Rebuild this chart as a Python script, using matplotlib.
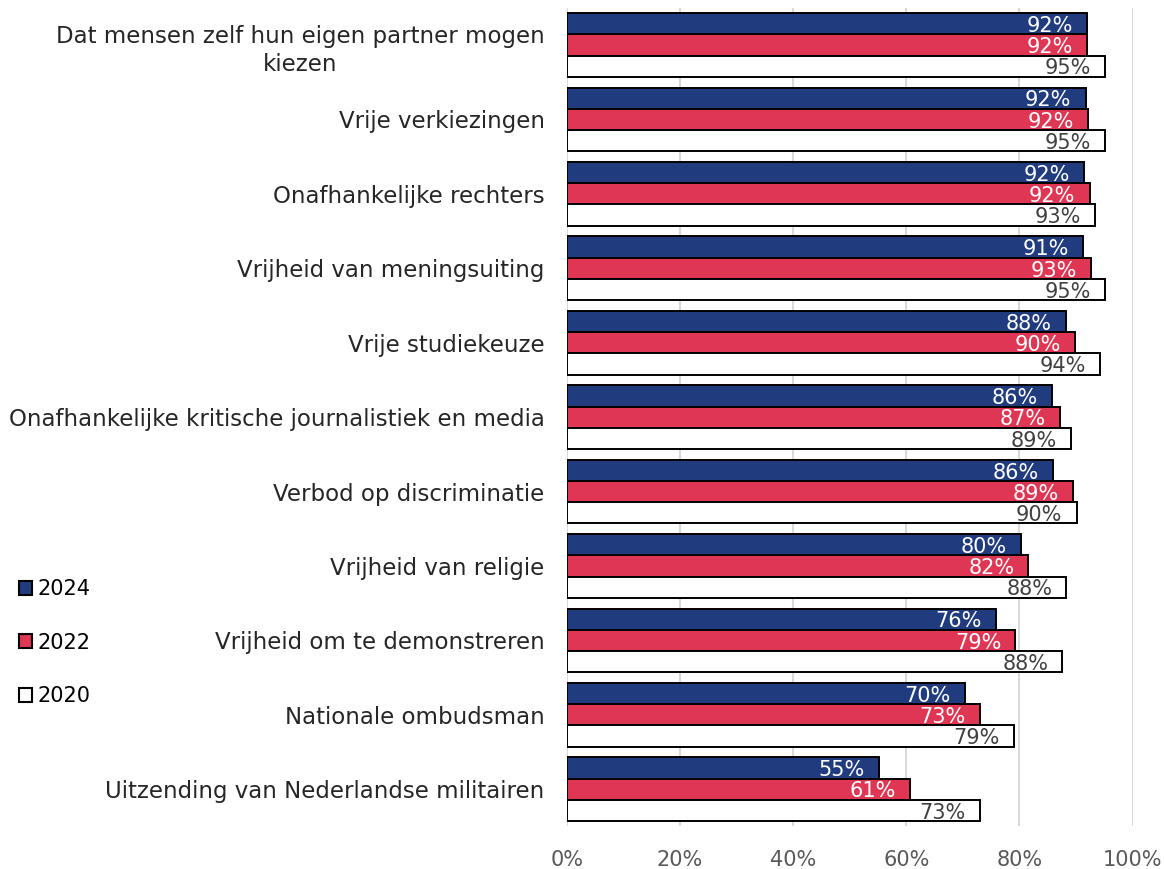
import matplotlib
matplotlib.use('Agg')
import matplotlib.pyplot as plt
from matplotlib.patches import Patch

plt.rcParams['font.family'] = ['DejaVu Sans']

categories = [
    'Dat mensen zelf hun eigen partner mogen\nkiezen',
    'Vrije verkiezingen',
    'Onafhankelijke rechters',
    'Vrijheid van meningsuiting',
    'Vrije studiekeuze',
    'Onafhankelijke kritische journalistiek en media',
    'Verbod op discriminatie',
    'Vrijheid van religie',
    'Vrijheid om te demonstreren',
    'Nationale ombudsman',
    'Uitzending van Nederlandse militairen',
]
v2024 = [91.9, 91.7, 91.5, 91.2, 88.2, 85.7, 86.0, 80.2, 75.8, 70.3, 55.1]
v2022 = [91.9, 92.2, 92.4, 92.6, 89.9, 87.1, 89.4, 81.6, 79.3, 73.0, 60.6]
v2020 = [95.1, 95.1, 93.4, 95.1, 94.3, 89.2, 90.1, 88.3, 87.6, 79.0, 73.0]
years = ['2024', '2022', '2020']

blue = '#203C7F'
red = '#DF3654'
colors = [blue, red, 'white']
text_colors = ['white', 'white', '#404040']
series = [v2024, v2022, v2020]

fig = plt.figure(figsize=(11.64, 8.69), dpi=100)
ax = fig.add_axes([0.487, 0.049, 0.486, 0.942])

h = 0.285
for k, vals in enumerate(series):
    ys = [i + (k - 1) * h for i in range(len(categories))]
    ax.barh(ys, vals, height=h, color=colors[k], edgecolor='black',
            linewidth=1.4, zorder=3)
    for y, v in zip(ys, vals):
        ax.text(v - 2.5, y + 0.03, '%d%%' % round(v), ha='right', va='center',
                color=text_colors[k], fontsize=15, zorder=4)

ax.set_xlim(0, 100)
ax.set_ylim(len(categories) - 0.5, -0.5)
ax.set_xticks(range(0, 101, 20))
ax.set_xticklabels(['%d%%' % t for t in range(0, 101, 20)])
ax.set_yticks(range(len(categories)))
ax.set_yticklabels(categories, multialignment='center', linespacing=1.3)
ax.tick_params(axis='x', length=0, labelsize=15, labelcolor='#595959', pad=17)
ax.tick_params(axis='y', length=0, labelsize=16.5, labelcolor='#262626', pad=16)
ax.grid(axis='x', color='#D9D9D9', linewidth=1.5, zorder=0)
for s in ax.spines.values():
    s.set_visible(False)

handles = [Patch(facecolor=c, edgecolor='black', linewidth=1.5) for c in colors]
leg = fig.legend(handles, years, loc='upper left', bbox_to_anchor=(0.0, 0.355),
                 frameon=False, fontsize=15, handlelength=0.65, handleheight=0.65,
                 handletextpad=0.25, labelspacing=1.6)

fig.savefig('out.png', dpi=100)
